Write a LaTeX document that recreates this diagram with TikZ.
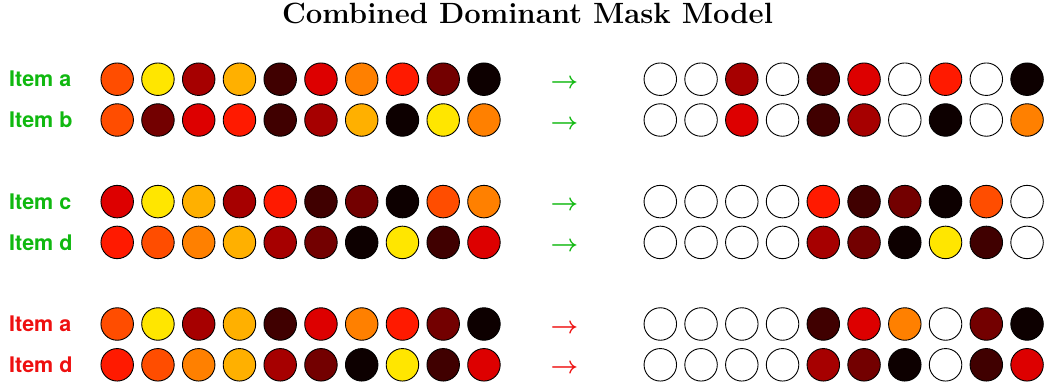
\documentclass[tikz,border=0pt]{standalone}
\usepackage{fontspec}
\usepackage{graphicx}
\newfontfamily\labelfont{TeX Gyre Heros}
\definecolor{cA}{HTML}{FF4D00}
\definecolor{cY}{HTML}{FFE600}
\definecolor{cRc}{HTML}{A60000}
\definecolor{cOb}{HTML}{FFB000}
\definecolor{cKc}{HTML}{400000}
\definecolor{cRb}{HTML}{DD0000}
\definecolor{cOa}{HTML}{FF8000}
\definecolor{cRa}{HTML}{FF1A00}
\definecolor{cKb}{HTML}{730000}
\definecolor{cKa}{HTML}{0D0000}
\definecolor{cW}{HTML}{FFFFFF}
\definecolor{itemgreen}{HTML}{10B810}
\definecolor{itemred}{HTML}{EE1010}
\begin{document}
\begin{tikzpicture}[x=1pt,y=-1pt,
  dot/.style={circle,draw=black,line width=0.9pt,minimum size=32.5pt,inner sep=0pt},
  itemlabel/.style={anchor=west,inner sep=0pt,font=\labelfont\bfseries\fontsize{21.5}{25}\selectfont},
  maparrow/.style={anchor=base,inner sep=0pt},
  titlestyle/.style={anchor=base,inner sep=0pt,font=\bfseries\fontsize{29.3}{34}\selectfont}]
\useasboundingbox (0,0) rectangle (1044,386);
\node[titlestyle] (title) at (527.5,23.5) {Combined Dominant Mask Model};
\foreach \r/\y/\lab/\col/\L/\R in {
  1/79.2/a/itemgreen/{cA,cY,cRc,cOb,cKc,cRb,cOa,cRa,cKb,cKa}/{cW,cW,cRc,cW,cKc,cRb,cW,cRa,cW,cKa},
  2/120/b/itemgreen/{cA,cKb,cRb,cRa,cKc,cRc,cOb,cKa,cY,cOa}/{cW,cW,cRb,cW,cKc,cRc,cW,cKa,cW,cOa},
  3/201.6/c/itemgreen/{cRb,cY,cOb,cRc,cRa,cKc,cKb,cKa,cA,cOa}/{cW,cW,cW,cW,cRa,cKc,cKb,cKa,cA,cW},
  4/242.4/d/itemgreen/{cRa,cA,cOa,cOb,cRc,cKb,cKa,cY,cKc,cRb}/{cW,cW,cW,cW,cRc,cKb,cKa,cY,cKc,cW},
  5/324/a/itemred/{cA,cY,cRc,cOb,cKc,cRb,cOa,cRa,cKb,cKa}/{cW,cW,cW,cW,cKc,cRb,cOa,cW,cKb,cKa},
  6/364.8/d/itemred/{cRa,cA,cOa,cOb,cRc,cKb,cKa,cY,cKc,cRb}/{cW,cW,cW,cW,cRc,cKb,cKa,cW,cKc,cRb}}{
  \node[itemlabel,text=\col] (lab\r) at (9,\y) {Item \lab};
  \foreach \c [count=\i from 0] in \L {
    \node[dot,fill=\c] (l\r-\i) at (117.2+40.75*\i,\y) {};
  }
  \node[maparrow,text=\col] (arr\r) at (564.5,\y+9) {\scalebox{2.4}{\boldmath$\rightarrow$}};
  \foreach \c [count=\i from 0] in \R {
    \node[dot,fill=\c] (m\r-\i) at (660.3+40.75*\i,\y) {};
  }
}
\end{tikzpicture}
\end{document}
